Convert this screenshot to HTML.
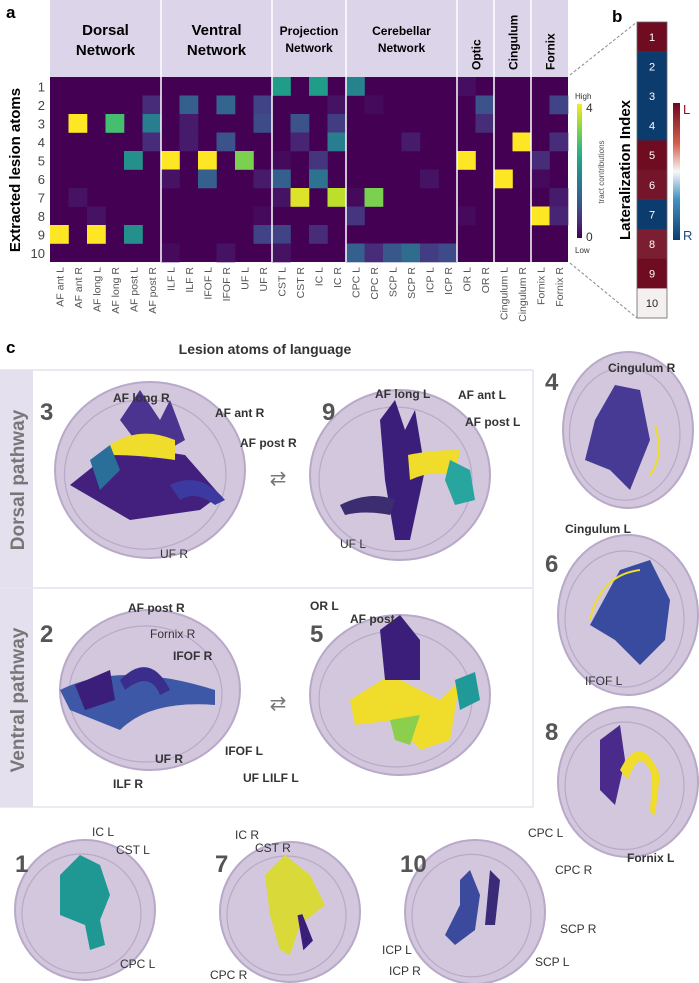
<!DOCTYPE html>
<html><head><meta charset="utf-8"><style>
body{margin:0;background:#fff;}
svg{display:block;font-family:"Liberation Sans",sans-serif;}
</style></head><body>
<svg id="fig" width="699" height="983" viewBox="0 0 699 983">
<g id="hm"></g>
<g id="lat"></g>
<g id="pc"></g>
</svg>
<script>
const tracts=["AF ant L","AF ant R","AF long L","AF long R","AF post L","AF post R","ILF L","ILF R","IFOF L","IFOF R","UF L","UF R","CST L","CST R","IC L","IC R","CPC L","CPC R","SCP L","SCP R","ICP L","ICP R","OR L","OR R","Cingulum L","Cingulum R","Fornix L","Fornix R"];
const atoms=["1","2","3","4","5","6","7","8","9","10"];
const groups=[["Dorsal","Network"],["Ventral","Network"],["Projection","Network"],["Cerebellar","Network"],["Optic"],["Cingulum"],["Fornix"]];
const groupSizes=[6,6,4,6,2,2,2];
const row1=[[12,2.2],[14,2.2],[16,1.8],[22,0.15]];
const row2=[[5,0.5],[7,1.2],[9,1.3],[11,0.8],[15,0.2],[17,0.1],[23,1.0],[27,0.8]];
const row3=[[1,4],[3,2.8],[5,1.7],[7,0.3],[11,0.9],[13,1.0],[15,0.7],[23,0.5]];
const row4=[[5,0.5],[7,0.3],[9,1.0],[13,0.4],[15,1.7],[19,0.3],[25,4],[27,0.5]];
const row5=[[4,2.0],[6,4],[8,4],[10,3.2],[12,0.1],[14,0.6],[22,4],[26,0.5]];
const row6=[[6,0.2],[8,1.2],[11,0.3],[12,1.2],[14,1.5],[20,0.2],[24,4],[26,0.1]];
const row7=[[1,0.2],[12,0.2],[13,3.8],[15,3.6],[16,0.1],[17,3.2],[27,0.3]];
const row8=[[2,0.2],[11,0.1],[16,0.6],[22,0.1],[26,4],[27,0.4]];
const row9=[[0,4],[2,4],[4,2.0],[11,0.8],[12,0.8],[14,0.5]];
const row10=[[6,0.1],[9,0.2],[12,0.2],[16,1.2],[17,0.5],[18,1.1],[19,1.4],[20,0.7],[21,0.9]];
const rows=[row1,row2,row3,row4,row5,row6,row7,row8,row9,row10];
const latIndex=[0.95,-1,-1,-1,0.95,0.85,-1,0.75,0.95,0];

const NS="http://www.w3.org/2000/svg";
function mk(p,t,a,txt){const e=document.createElementNS(NS,t);for(const k in a)e.setAttribute(k,a[k]);if(txt!==undefined)e.textContent=txt;p.appendChild(e);return e;}
const vir=[[68,1,84],[72,40,120],[62,74,137],[49,104,142],[38,130,142],[31,158,137],[53,183,121],[109,205,89],[180,222,44],[253,231,37]];
function viridis(t){t=Math.max(0,Math.min(1,t))*9;const i=Math.min(8,Math.floor(t)),f=t-i;const a=vir[i],b=vir[i+1];return `rgb(${a.map((v,k)=>Math.round(v+(b[k]-v)*f)).join(',')})`;}
const X0=50,CW=18.5,Y0=77,RH=18.5;
const xs=i=>X0+i*CW, ys=r=>Y0+r*RH;
const hm=document.getElementById('hm');
let t=mk(hm,'text',{x:6,y:18,'font-size':17,'font-weight':'bold'},'a');

mk(hm,'rect',{x:X0,y:0,width:28*CW,height:Y0,fill:'#dcd5ea'});
mk(hm,'rect',{x:X0,y:Y0,width:28*CW,height:10*RH,fill:viridis(0)});
rows.forEach((r,ri)=>r.forEach(([c,v])=>{const e=mk(hm,'rect',{x:xs(c),y:ys(ri),width:CW+0.3,height:RH+0.3,fill:viridis(v/4)});
}));
let start=0;
groups.forEach((g,gi)=>{const n=groupSizes[gi];const cx=xs(start+n/2);
 if(g.length===2){const fs=gi>=2?12:15;mk(hm,'text',{x:cx,y:35,'font-size':fs,'font-weight':'bold','text-anchor':'middle'},g[0]);
  mk(hm,'text',{x:cx,y:gi>=2?52:55,'font-size':fs,'font-weight':'bold','text-anchor':'middle'},g[1]);}
 else{mk(hm,'text',{x:cx+5,y:70,'font-size':12,'font-weight':'bold',transform:`rotate(-90 ${cx+5} 70)`},g[0]);}
 start+=n; if(start<28) mk(hm,'line',{x1:xs(start),x2:xs(start),y1:0,y2:Y0+10*RH,stroke:'#fff','stroke-width':1.5});
});
atoms.forEach((a,i)=>{const e=mk(hm,'text',{x:45,y:ys(i)+RH/2+5,'font-size':13,'text-anchor':'end',fill:'#444'},a);});
t=mk(hm,'text',{x:20,y:170,'font-size':15,'font-weight':'bold','text-anchor':'middle',transform:'rotate(-90 20 170)'},'Extracted lesion atoms');
tracts.forEach((n,i)=>{const x=xs(i)+CW/2+4,y=267;const e=mk(hm,'text',{x:x,y:y,'font-size':10.5,'text-anchor':'end',fill:'#555',transform:`rotate(-90 ${x} ${y})`},n);});
const cb=mk(hm,'defs',{});const lg=mk(cb,'linearGradient',{id:'vg',x1:0,y1:1,x2:0,y2:0});
for(let k=0;k<=9;k++)mk(lg,'stop',{offset:k/9,'stop-color':viridis(k/9)});
mk(hm,'rect',{x:577,y:104,width:5,height:134,fill:'url(#vg)'});
mk(hm,'text',{x:575,y:99,'font-size':8,fill:'#333'},'High');
mk(hm,'text',{x:586,y:112,'font-size':12,fill:'#333'},'4');
mk(hm,'text',{x:586,y:241,'font-size':12,fill:'#333'},'0');
mk(hm,'text',{x:575,y:253,'font-size':8,fill:'#333'},'Low');
mk(hm,'text',{x:604,y:172,'font-size':8,fill:'#555','text-anchor':'middle',transform:'rotate(-90 604 172)'},'tract contributions');
const lat=document.getElementById('lat');
mk(lat,'text',{x:612,y:22,'font-size':17,'font-weight':'bold'},'b');
function rdbu(v){const t=Math.pow(Math.abs(v),0.35);if(v>=0){return `rgb(${Math.round(245-(245-110)*t)},${Math.round(240-(240-8)*t)},${Math.round(240-(240-30)*t)})`;}return `rgb(${Math.round(245-(245-12)*t)},${Math.round(240-(240-60)*t)},${Math.round(240-(240-110)*t)})`;}
const LX=637,LY=22,LH=29.6;
latIndex.forEach((v,i)=>{const e=mk(lat,'rect',{x:LX,y:LY+i*LH,width:30,height:LH+0.3,fill:rdbu(v)});
 mk(lat,'text',{x:LX+15,y:LY+i*LH+LH/2+4,'font-size':11,'text-anchor':'middle',fill:Math.abs(v)<0.2?'#222':'#fff'},atoms[i]);});
mk(lat,'rect',{x:LX,y:LY,width:30,height:10*LH,fill:'none',stroke:'#666','stroke-width':0.8});
mk(lat,'line',{x1:570,y1:75,x2:LX,y2:22,stroke:'#888','stroke-dasharray':'3,2'});
mk(lat,'line',{x1:570,y1:263,x2:LX,y2:318,stroke:'#888','stroke-dasharray':'3,2'});
mk(lat,'text',{x:630,y:170,'font-size':15,'font-weight':'bold','text-anchor':'middle',transform:'rotate(-90 630 170)'},'Lateralization Index');
const lg2=mk(cb,'linearGradient',{id:'rb',x1:0,y1:0,x2:0,y2:1});
[[0,'#6e081e'],[0.3,'#d6604d'],[0.5,'#f7f7f7'],[0.7,'#4393c3'],[1,'#0c3c6e']].forEach(([o,c])=>mk(lg2,'stop',{offset:o,'stop-color':c}));
mk(lat,'rect',{x:673,y:103,width:7,height:137,fill:'url(#rb)'});
mk(lat,'text',{x:683,y:114,'font-size':13,fill:'#8a1020'},'L');
mk(lat,'text',{x:683,y:240,'font-size':13,fill:'#1a4a80'},'R');
const pc=document.getElementById('pc');
mk(pc,'text',{x:6,y:353,'font-size':17,'font-weight':'bold'},'c');
mk(pc,'text',{x:265,y:354,'font-size':14,'font-weight':'bold','text-anchor':'middle',fill:'#333'},'Lesion atoms of language');
mk(pc,'rect',{x:0,y:370,width:533,height:437,fill:'#fff',stroke:'#e6e2ef','stroke-width':1.5});
mk(pc,'rect',{x:0,y:370,width:33,height:437,fill:'#e4e0ee'});
mk(pc,'line',{x1:0,x2:533,y1:588,y2:588,stroke:'#e6e2ef','stroke-width':1.5});
mk(pc,'text',{x:24,y:480,'font-size':19,'font-weight':'bold','text-anchor':'middle',fill:'#777',transform:'rotate(-90 24 480)'},'Dorsal pathway');
mk(pc,'text',{x:24,y:700,'font-size':19,'font-weight':'bold','text-anchor':'middle',fill:'#777',transform:'rotate(-90 24 700)'},'Ventral pathway');
function brain(cx,cy,rx,ry,num,nx,ny,blobs,name){const g=mk(pc,'g',{});
 mk(g,'ellipse',{cx:cx,cy:cy,rx:rx,ry:ry,fill:'#d2c7dd',stroke:'#b8a9c8','stroke-width':2});
 mk(g,'ellipse',{cx:cx-rx*0.05,cy:cy+ry*0.05,rx:rx*0.85,ry:ry*0.85,fill:'none',stroke:'#b8a9c8','stroke-width':1.2});
 blobs.forEach(b=>mk(g,b[0],Object.assign({},b[1])));
 mk(g,'text',{x:nx,y:ny,'font-size':24,'font-weight':'bold',fill:'#555'},num);}
const pur='#3b1d7a',blu='#3e58a8',yel='#f0dc2a',tea='#1f9a98',grn='#8ccf4d';
brain(150,470,95,88,'3',40,420,[['path',{d:'M70 485 L120 445 L185 455 L220 495 L200 510 L130 520 Z',fill:'#43207d'}],['path',{d:'M120 420 L140 390 L160 420 L170 400 L185 440 L150 460 Z',fill:'#4b3390'}],['path',{d:'M110 445 Q140 425 175 440 L175 460 Q140 455 110 455 Z',fill:yel}],['path',{d:'M90 460 L110 445 L120 470 L100 490 Z',fill:'#2a6e9a'}],['path',{d:'M170 485 Q200 470 225 500 L215 505 Q195 490 180 500 Z',fill:'#3c3aa0'}]],'brain-atom-3');
brain(400,475,90,85,'9',322,420,[['path',{d:'M380 420 L395 400 L405 430 L415 410 L425 470 L410 540 L395 540 L385 480 Z',fill:pur}],['path',{d:'M408 455 Q430 450 460 450 L455 475 Q430 470 410 480 Z',fill:yel}],['path',{d:'M450 460 L470 470 L475 500 L455 505 L445 480 Z',fill:'#28a59e'}],['path',{d:'M340 505 Q370 490 395 500 L390 515 Q365 510 345 515 Z',fill:'#3b2d70'}]],'brain-atom-9');
brain(150,690,90,80,'2',40,642,[['path',{d:'M60 690 Q120 660 215 690 L215 705 Q150 700 120 730 L70 710 Z',fill:blu}],['path',{d:'M75 685 L110 670 L115 700 L85 710 Z',fill:pur}],['path',{d:'M120 680 Q150 650 170 690 L160 695 Q150 670 125 690 Z',fill:'#3a2d8c'}]],'brain-atom-2');
brain(400,695,90,80,'5',310,642,[['path',{d:'M350 700 L390 675 L440 700 L460 680 L450 740 L420 750 L395 720 L355 725 Z',fill:yel}],['path',{d:'M380 630 L400 615 L420 640 L420 680 L385 680 Z',fill:pur}],['path',{d:'M455 680 L475 672 L480 700 L460 710 Z',fill:tea}],['path',{d:'M390 720 L420 715 L410 745 L395 740 Z',fill:grn}]],'brain-atom-5');
brain(628,430,65,78,'4',545,390,[['path',{d:'M595 420 L615 385 L640 390 L650 440 L630 490 L610 470 L585 460 Z',fill:'#463a94'}],['path',{d:'M655 425 Q665 455 650 475',fill:'none',stroke:yel,'stroke-width':2}]],'brain-atom-4');
brain(628,615,70,80,'6',545,572,[['path',{d:'M620 570 L650 560 L670 600 L665 640 L640 665 L615 640 L590 625 Z',fill:'#384b9e'}],['path',{d:'M590 620 Q600 575 640 570',fill:'none',stroke:yel,'stroke-width':2}]],'brain-atom-6');
brain(628,782,70,75,'8',545,740,[['path',{d:'M600 740 L620 725 L625 760 L615 805 L600 790 Z',fill:'#4a2a8a'}],['path',{d:'M620 770 Q640 730 660 775 L655 815 L650 812 L652 775 Q640 745 628 780 Z',fill:yel}]],'brain-atom-8');
brain(85,910,70,70,'1',15,872,[['path',{d:'M60 875 L80 855 L100 865 L110 895 L100 920 L105 945 L90 950 L85 925 L60 915 Z',fill:'#1f9893'}]],'brain-atom-1');
brain(290,912,70,70,'7',215,872,[['path',{d:'M265 875 L285 855 L310 875 L325 905 L300 925 L290 955 L280 950 L270 915 Z',fill:'#d9d93a'}],['path',{d:'M300 915 L310 940 L305 945 Z',stroke:pur,'stroke-width':5}]],'brain-atom-7');
brain(475,912,70,72,'10',400,872,[['path',{d:'M460 880 L470 870 L480 895 L475 930 L455 945 L445 935 L460 905 Z',fill:'#3b4a9c'}],['path',{d:'M490 870 L500 880 L495 925 L485 925 Z',fill:'#3a2b78'}]],'brain-atom-10');
const labs=[[113,402,'AF long R',1],[215,417,'AF ant R',1],[240,447,'AF post R',1],[160,558,'UF R',0],[375,398,'AF long L',1],[458,399,'AF ant L',1],[465,426,'AF post L',1],[340,548,'UF L',0],[128,612,'AF post R',1],[150,638,'Fornix R',0],[173,660,'IFOF R',1],[155,763,'UF R',1],[113,788,'ILF R',1],[310,610,'OR L',1],[350,623,'AF post',1],[225,755,'IFOF L',1],[243,782,'UF L',1],[270,782,'ILF L',1],[608,372,'Cingulum R',1],[565,533,'Cingulum L',1],[585,685,'IFOF L',0],[627,862,'Fornix L',1],[92,836,'IC L',0],[116,854,'CST L',0],[120,968,'CPC L',0],[235,839,'IC R',0],[255,852,'CST R',0],[210,979,'CPC R',0],[528,837,'CPC L',0],[555,874,'CPC R',0],[560,933,'SCP R',0],[535,966,'SCP L',0],[382,954,'ICP L',0],[389,975,'ICP R',0]];
labs.forEach(([x,y,s,b])=>{const e=mk(pc,'text',{x:x,y:y,'font-size':12,'font-weight':b?'bold':'normal',fill:'#333'},s);});
mk(pc,'text',{x:278,y:485,'font-size':20,fill:'#777','text-anchor':'middle'},'⇄');
mk(pc,'text',{x:278,y:710,'font-size':20,fill:'#777','text-anchor':'middle'},'⇄');
</script>
</body></html>
